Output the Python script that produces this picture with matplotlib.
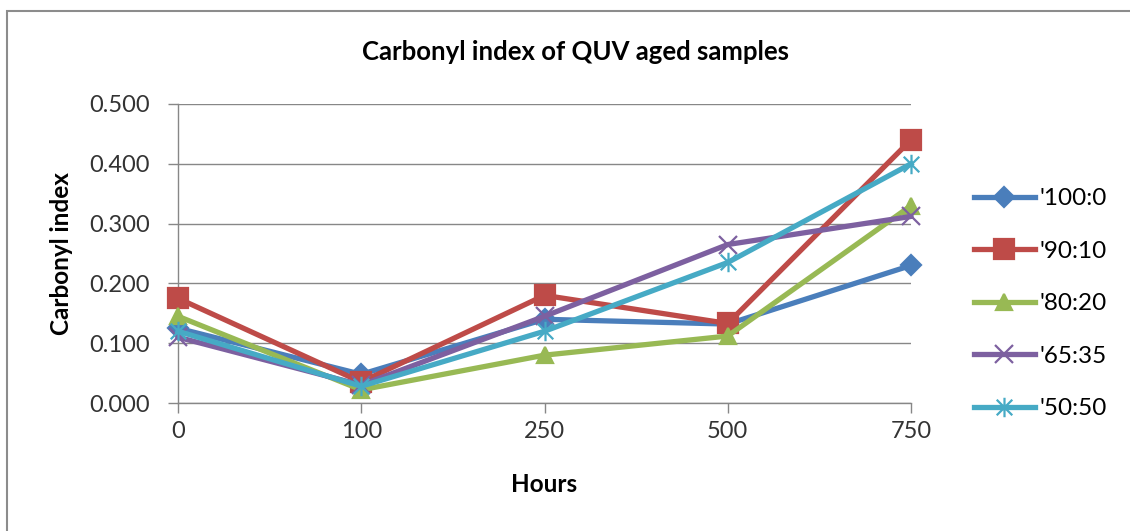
import matplotlib
matplotlib.use("Agg")
import matplotlib.pyplot as plt
from matplotlib.path import Path
from matplotlib.patches import Rectangle

plt.rcParams['font.family'] = ['Lato', 'DejaVu Sans']

hours = ['0', '100', '250', '500', '750']
s100_0 = [0.125, 0.048, 0.140, 0.132, 0.230]
s90_10 = [0.175, 0.035, 0.180, 0.133, 0.440]
s80_20 = [0.145, 0.022, 0.080, 0.112, 0.330]
s65_35 = [0.110, 0.030, 0.145, 0.265, 0.312]
s50_50 = [0.120, 0.028, 0.120, 0.235, 0.400]
labels = ["'100:0", "'90:10", "'80:20", "'65:35", "'50:50"]
colors = ['#4A7EBB', '#BE4B48', '#98B954', '#7D60A0', '#46AAC5']

star = Path([(0, -1), (0, 1), (-0.8, -0.8), (0.8, 0.8), (-0.8, 0.8), (0.8, -0.8)],
            [Path.MOVETO, Path.LINETO, Path.MOVETO, Path.LINETO, Path.MOVETO, Path.LINETO])
markers = ['D', 's', '^', 'x', star]
msizes = [10, 14, 12, 13, 14]

fig = plt.figure(figsize=(11.3, 5.31), dpi=100)
ax = fig.add_axes([178/1130, 1 - 403/531, (911-178)/1130, (403-104)/531])

x = list(range(len(hours)))
series = [s100_0, s90_10, s80_20, s65_35, s50_50]
for vals, lab, c, m, ms in zip(series, labels, colors, markers, msizes):
    ax.plot(x, vals, color=c, lw=3.8, marker=m, ms=ms, mfc=c, mec=c,
            mew=1.6, label=lab, solid_joinstyle='round', clip_on=False, zorder=3)

ax.set_xlim(0, 4)
ax.set_ylim(0, 0.5)
ax.set_yticks([0, 0.1, 0.2, 0.3, 0.4, 0.5])
ax.set_yticklabels(['0.000', '0.100', '0.200', '0.300', '0.400', '0.500'])
ax.set_xticks(x)
ax.set_xticklabels(hours)
ax.grid(axis='y', color='#878787', lw=1.0)
ax.set_axisbelow(True)
for s in ['top', 'right']:
    ax.spines[s].set_visible(False)
for s in ['left', 'bottom']:
    ax.spines[s].set_color('#878787')
    ax.spines[s].set_linewidth(1.0)
ax.tick_params(axis='both', colors='#878787', labelcolor='#333333', labelsize=17,
               length=7, width=1.0, direction='out')
ax.tick_params(axis='y', pad=13)
ax.tick_params(axis='x', pad=6)

ax.set_xlabel('Hours', fontsize=17.5, fontweight='bold', labelpad=22)
ax.set_ylabel('Carbonyl index', fontsize=17.5, fontweight='bold', labelpad=12)
fig.text(575/1130, 1 - 52/531, 'Carbonyl index of QUV aged samples', ha='center', va='center',
         fontsize=18.5, fontweight='bold')

leg = ax.legend(loc='upper left', bbox_to_anchor=(974/1130, 1 - 188/531),
                bbox_transform=fig.transFigure, frameon=False, fontsize=17.5,
                handlelength=2.5, labelspacing=1.3, handletextpad=0.2, borderaxespad=0,
                borderpad=0)

fig.patches.append(Rectangle((7/1130, -0.1), 1.2, 1 - 11/531 + 0.1, transform=fig.transFigure,
                             fill=False, edgecolor='#8c8c8c', lw=1.5))

fig.savefig('out.png', dpi=100)
